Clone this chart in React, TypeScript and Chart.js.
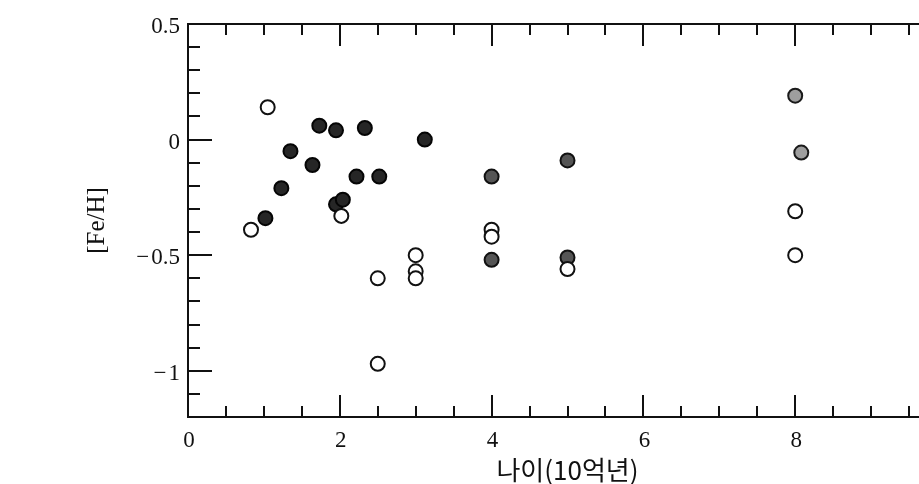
import React, { useEffect, useRef } from "react";
import { Chart, registerables } from "chart.js";

Chart.register(...registerables);

// Tick labels
const xTickValues = [0, 2, 4, 6, 8, 10];
const yTickValues = [-1, -0.5, 0, 0.5];
const xMinorStep = 0.5;
const yMinorStep = 0.1;

// Open circles
const openAges = [1.05, 0.83, 2.02, 2.5, 2.5, 3.0, 3.0, 3.0, 4.0, 4.0, 5.0, 8.0, 8.0];
const openFeH = [0.14, -0.39, -0.33, -0.6, -0.97, -0.5, -0.57, -0.6, -0.39, -0.42, -0.56, -0.31, -0.5];

// Dark (black) filled circles
const darkAges = [1.02, 1.23, 1.35, 1.64, 1.73, 1.95, 1.95, 2.04, 2.22, 2.33, 2.52, 3.12];
const darkFeH = [-0.34, -0.21, -0.05, -0.11, 0.06, 0.04, -0.28, -0.26, -0.16, 0.05, -0.16, 0.0];

// Dark-grey filled circles
const grayAges = [4.0, 4.0, 5.0, 5.0];
const grayFeH = [-0.16, -0.52, -0.09, -0.51];

// Light-grey filled circles
const lightAges = [8.0, 8.08];
const lightFeH = [0.19, -0.056];

const toPoints = (xs: number[], ys: number[]) => xs.map((x, i) => ({ x, y: ys[i] }));

const framePlugin = {
  id: "frameTicks",
  beforeDatasetsDraw(chart: any) {
    const { ctx, chartArea, scales } = chart;
    const { left, right, top, bottom } = chartArea;
    const xs = scales.x;
    const ys = scales.y;
    ctx.save();
    ctx.strokeStyle = "#111";
    ctx.lineWidth = 2;
    ctx.strokeRect(left, top, right - left, bottom - top);
    ctx.beginPath();
    const xMin = xs.min, xMax = xs.max;
    for (let k = 0; xMin + k * xMinorStep <= xMax + 1e-9; k++) {
      const v = xMin + k * xMinorStep;
      const major = xTickValues.some((t) => Math.abs(t - v) < 1e-6);
      const len = major ? 22 : 11;
      const px = Math.round(xs.getPixelForValue(v));
      ctx.moveTo(px, bottom);
      ctx.lineTo(px, bottom - len);
      ctx.moveTo(px, top);
      ctx.lineTo(px, top + len);
    }
    const yMin = ys.min, yMax = ys.max;
    for (let k = 0; yMin + k * yMinorStep <= yMax + 1e-9; k++) {
      const v = yMin + k * yMinorStep;
      const major = yTickValues.some((t) => Math.abs(t - v) < 1e-6);
      const len = major ? 24 : 12;
      const py = Math.round(ys.getPixelForValue(v));
      ctx.moveTo(left, py);
      ctx.lineTo(left + len, py);
      ctx.moveTo(right, py);
      ctx.lineTo(right - len, py);
    }
    ctx.stroke();
    ctx.restore();
  },
};

const fmt = (v: number) => {
  const s = String(Math.abs(v));
  return v < 0 ? "\u2212\u200a" + s : s;
};

export default function App() {
  const ref = useRef<HTMLCanvasElement>(null);
  useEffect(() => {
    if (!ref.current) return;
    const serif = "'Liberation Serif', 'DejaVu Serif', serif";
    const chart = new Chart(ref.current, {
      type: "scatter",
      data: {
        datasets: [
          {
            label: "open",
            data: toPoints(openAges, openFeH),
            backgroundColor: "#ffffff",
            borderColor: "#111111",
            borderWidth: 2,
            pointRadius: 7,
          },
          {
            label: "dark",
            data: toPoints(darkAges, darkFeH),
            backgroundColor: "#262626",
            borderColor: "#050505",
            borderWidth: 2,
            pointRadius: 7,
          },
          {
            label: "gray",
            data: toPoints(grayAges, grayFeH),
            backgroundColor: "#555555",
            borderColor: "#111111",
            borderWidth: 2,
            pointRadius: 7,
          },
          {
            label: "light",
            data: toPoints(lightAges, lightFeH),
            backgroundColor: "#9e9e9e",
            borderColor: "#1a1a1a",
            borderWidth: 2,
            pointRadius: 7,
          },
        ],
      },
      options: {
        animation: false,
        responsive: false,
        devicePixelRatio: 1,
        layout: { padding: { left: 0, top: 24, right: 53, bottom: 0 } },
        plugins: { legend: { display: false }, tooltip: { enabled: false } },
        scales: {
          x: {
            type: "linear",
            min: 0,
            max: 10,
            grid: { display: false, drawTicks: false },
            border: { display: false },
            afterBuildTicks: (s: any) => {
              s.ticks = xTickValues.map((v) => ({ value: v }));
            },
            afterFit: (s: any) => {
              s.height = 67;
            },
            ticks: {
              color: "#111",
              padding: 10,
              labelOffset: 1,
              font: { family: serif, size: 23 },
              callback: (v: any) => fmt(Number(v)),
            },
            title: {
              display: true,
              text: "나이(10억년)",
              color: "#111",
              padding: { top: 0, bottom: 1 },
              font: { family: "'Noto Sans CJK KR', sans-serif", size: 26, lineHeight: 1.0 },
            },
          },
          y: {
            type: "linear",
            min: -1.2,
            max: 0.5,
            grid: { display: false, drawTicks: false },
            border: { display: false },
            afterBuildTicks: (s: any) => {
              s.ticks = yTickValues.map((v) => ({ value: v }));
            },
            afterFit: (s: any) => {
              s.width = 188;
            },
            ticks: {
              color: "#111",
              padding: 8,
              labelOffset: 3,
              font: { family: serif, size: 23 },
              callback: (v: any) => fmt(Number(v)),
            },
            title: {
              display: true,
              text: "[Fe/H]",
              color: "#111",
              padding: { top: 85, bottom: 0 },
              font: { family: serif, size: 25, lineHeight: 1.0 },
            },
          },
        },
      },
      plugins: [framePlugin],
    } as any);
    return () => chart.destroy();
  }, []);
  return (
    <div
      style={{
        position: "fixed",
        left: 0,
        top: 0,
        width: 919,
        height: 484,
        overflow: "hidden",
        background: "#fff",
      }}
    >
      <canvas ref={ref} width={1000} height={484} style={{ width: 1000, height: 484, display: "block" }} />
    </div>
  );
}
